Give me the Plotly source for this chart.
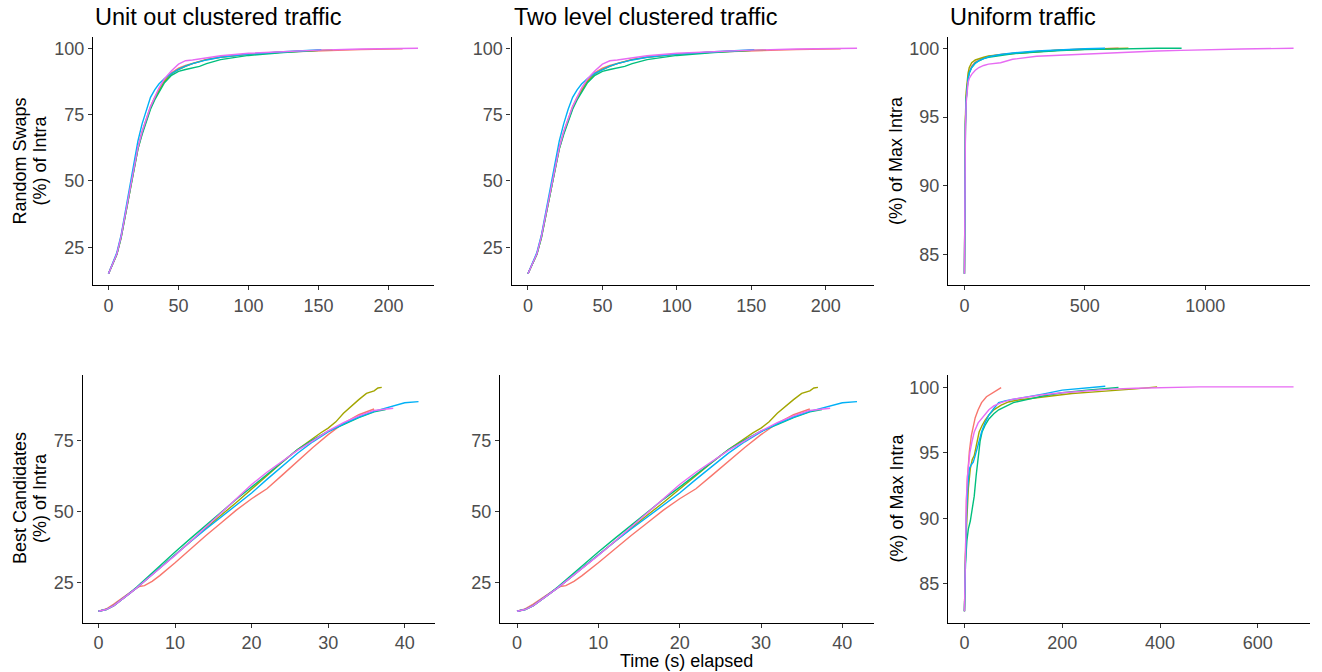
import plotly.graph_objects as go

W, H = 1322, 672

RUNS = ["run 1", "run 2", "run 3", "run 4", "run 5"]
COLORS = ["#F8766D", "#A3A500", "#00BF7D", "#00B0F6", "#E76BF3"]

# ---- Unit out clustered traffic, Random Swaps ----
uo_rs_t1 = [0, 3, 6, 9, 12, 15, 18, 21, 24, 27, 30, 33, 36, 40, 45, 50, 55, 60, 70, 80, 100, 125, 150, 180, 210]
uo_rs_v1 = [15, 18.5, 22.5, 29, 37.5, 46.5, 55, 62.5, 68.5, 73.5, 78, 81.5, 84.5, 88, 90.8, 92.5, 93.5, 94.3, 95.8, 96.7, 97.8, 98.6, 99.1, 99.5, 99.8]
uo_rs_t2 = [0, 3, 6, 9, 12, 15, 18, 21, 24, 27, 30, 33, 36, 40, 45, 50, 55, 60, 70, 80, 100, 125, 150, 160]
uo_rs_v2 = [15, 18.5, 22.3, 28.5, 37, 46, 54.5, 62, 68, 73, 77.5, 81, 84, 87.5, 90.3, 92, 93.2, 94.2, 95.7, 96.6, 97.7, 98.6, 99.2, 99.4]
uo_rs_t3 = [0, 3, 6, 9, 12, 15, 18, 21, 24, 27, 30, 33, 36, 40, 45, 50, 55, 60, 65, 70, 80, 100, 125, 150]
uo_rs_v3 = [15, 18.5, 22.3, 28.5, 37, 46, 54.5, 62, 67.5, 72.5, 77, 80.5, 83.5, 87, 89.8, 91.3, 92, 92.5, 93.2, 94.2, 95.7, 97.3, 98.4, 99.2]
uo_rs_t4 = [0, 3, 6, 9, 12, 15, 18, 21, 24, 27, 30, 33, 36, 40, 45, 50, 55, 60, 70, 80, 100, 125, 152]
uo_rs_v4 = [15, 18.7, 23, 29.5, 38.5, 48, 57, 65, 71.5, 77, 81.5, 84.3, 86.5, 88.6, 90.5, 92, 93.3, 94.2, 95.6, 96.6, 97.8, 98.7, 99.5]
uo_rs_t5 = [0, 3, 6, 9, 12, 15, 18, 21, 24, 27, 30, 33, 36, 40, 45, 50, 55, 60, 70, 80, 100, 125, 150, 180, 221]
uo_rs_v5 = [15, 18.5, 22.5, 29, 37.5, 46.5, 55, 62.5, 68.5, 73.5, 78, 81.5, 85, 88.5, 91.5, 94, 95.3, 95.6, 96.5, 97.2, 98.1, 98.8, 99.3, 99.7, 100]

# ---- Two level clustered traffic, Random Swaps ----
tl_rs_t1 = [0, 3, 6, 9, 12, 15, 18, 21, 24, 27, 30, 33, 36, 40, 45, 50, 55, 60, 70, 80, 100, 125, 150, 180, 210]
tl_rs_v1 = [15, 18.5, 22.5, 29, 37.5, 46.5, 55, 62.5, 68.5, 73.5, 78, 81.5, 84.5, 88, 90.8, 92.5, 93.5, 94.3, 95.8, 96.7, 97.8, 98.6, 99.1, 99.5, 99.8]
tl_rs_t2 = [0, 3, 6, 9, 12, 15, 18, 21, 24, 27, 30, 33, 36, 40, 45, 50, 55, 60, 70, 80, 100, 125, 150, 160]
tl_rs_v2 = [15, 18.5, 22.3, 28.5, 37, 46, 54.5, 62, 68, 73, 77.5, 81, 84, 87.5, 90.3, 92, 93.2, 94.2, 95.7, 96.6, 97.7, 98.6, 99.2, 99.4]
tl_rs_t3 = [0, 3, 6, 9, 12, 15, 18, 21, 24, 27, 30, 33, 36, 40, 45, 50, 55, 60, 65, 70, 80, 100, 125, 150]
tl_rs_v3 = [15, 18.5, 22.3, 28.5, 37, 46, 54.5, 62, 67.5, 72.5, 77, 80.5, 83.5, 87, 89.8, 91.3, 92, 92.5, 93.2, 94.2, 95.7, 97.3, 98.4, 99.2]
tl_rs_t4 = [0, 3, 6, 9, 12, 15, 18, 21, 24, 27, 30, 33, 36, 40, 45, 50, 55, 60, 70, 80, 100, 125, 152]
tl_rs_v4 = [15, 18.7, 23, 29.5, 38.5, 48, 57, 65, 71.5, 77, 81.5, 84.3, 86.5, 88.6, 90.5, 92, 93.3, 94.2, 95.6, 96.6, 97.8, 98.7, 99.5]
tl_rs_t5 = [0, 3, 6, 9, 12, 15, 18, 21, 24, 27, 30, 33, 36, 40, 45, 50, 55, 60, 70, 80, 100, 125, 150, 180, 221]
tl_rs_v5 = [15, 18.5, 22.5, 29, 37.5, 46.5, 55, 62.5, 68.5, 73.5, 78, 81.5, 85, 88.5, 91.5, 94, 95.3, 95.6, 96.5, 97.2, 98.1, 98.8, 99.3, 99.7, 100]

# ---- Uniform traffic, Random Swaps ----
un_rs_t1 = [0, 1, 2, 4, 7, 10, 15, 20, 30, 45, 60, 80, 100, 150, 200, 300, 400, 500, 640]
un_rs_v1 = [83.6, 88, 91.5, 94.5, 96.3, 97.2, 97.9, 98.3, 98.7, 99.0, 99.15, 99.3, 99.4, 99.55, 99.62, 99.75, 99.87, 99.93, 100]
un_rs_t2 = [0, 1, 2, 4, 7, 10, 15, 20, 30, 45, 60, 80, 100, 150, 200, 300, 400, 500, 600, 681]
un_rs_v2 = [83.6, 88.5, 92, 95, 96.8, 97.6, 98.2, 98.6, 98.95, 99.15, 99.25, 99.35, 99.45, 99.55, 99.62, 99.75, 99.87, 99.93, 99.98, 100]
un_rs_t3 = [0, 1, 2, 4, 7, 10, 15, 20, 30, 45, 60, 80, 100, 150, 200, 300, 400, 500, 600, 700, 800, 902]
un_rs_v3 = [83.6, 88, 91.5, 94.5, 96.3, 97.2, 97.8, 98.2, 98.6, 98.95, 99.1, 99.25, 99.35, 99.5, 99.6, 99.72, 99.84, 99.9, 99.95, 99.98, 100, 100]
un_rs_t4 = [0, 1, 2, 4, 7, 10, 15, 20, 30, 45, 60, 80, 100, 150, 200, 300, 400, 500, 584]
un_rs_v4 = [83.6, 87.8, 91.3, 94.3, 96.2, 97.1, 97.8, 98.2, 98.6, 98.9, 99.1, 99.25, 99.38, 99.55, 99.66, 99.8, 99.9, 99.96, 100]
un_rs_t5 = [0, 1, 2, 4, 7, 10, 15, 20, 30, 45, 60, 80, 100, 150, 200, 300, 400, 500, 600, 700, 800, 900, 1000, 1150, 1367]
un_rs_v5 = [83.6, 87.5, 91, 94, 96, 96.9, 97.5, 97.8, 98.1, 98.4, 98.6, 98.75, 98.85, 98.95, 99.2, 99.42, 99.5, 99.58, 99.68, 99.74, 99.8, 99.85, 99.9, 99.95, 100]

# ---- Unit out clustered traffic, Best Candidates ----
uo_bc_t1 = [0, 1, 2, 3, 4, 5, 5.5, 6, 7, 8, 10, 12, 14, 16, 18, 20, 22, 24, 26, 28, 30, 32, 34, 36]
uo_bc_v1 = [15, 15.8, 17.5, 19.5, 21.5, 23.3, 23.8, 24, 25.5, 27.5, 32, 36.8, 41.5, 46, 50.5, 54.5, 58, 62.8, 67.8, 72.5, 77, 81, 84, 86]
uo_bc_t2 = [0, 1, 2, 3, 4, 5, 6, 8, 10, 12, 14, 16, 18, 20, 22, 24, 26, 28, 29, 30, 31, 32, 33, 34, 35, 36, 36.5, 37]
uo_bc_v2 = [15, 15.6, 17, 19, 21, 23.2, 25.5, 30.2, 34.8, 39.5, 44.2, 48.7, 53.2, 58, 62.8, 67.3, 71.8, 75.8, 77.6, 79.3, 81.5, 84.5, 87, 89.3, 91.5, 92.4, 93.4, 93.6]
uo_bc_t3 = [0, 1, 2, 3, 4, 5, 6, 8, 10, 12, 14, 16, 18, 20, 22, 24, 26, 28, 30, 32, 34, 36, 37.5]
uo_bc_v3 = [15, 15.6, 17, 19, 21.2, 23.5, 26, 31, 35.8, 40.5, 45.2, 49.8, 54.3, 58.6, 63, 67.5, 71.8, 75.2, 78.2, 80.5, 83, 85, 85.8]
uo_bc_t4 = [0, 1, 2, 3, 4, 5, 6, 8, 10, 12, 14, 16, 18, 20, 22, 24, 26, 28, 30, 32, 34, 36, 38, 40, 41.8]
uo_bc_v4 = [15, 15.6, 17, 19, 21, 23.2, 25.5, 30.2, 34.8, 39.4, 43.8, 48, 52.2, 56.5, 61.3, 66, 70.5, 74.5, 78, 80.8, 83.2, 85.2, 86.8, 88.2, 88.6]
uo_bc_t5 = [0, 1, 2, 3, 4, 5, 6, 8, 10, 12, 14, 16, 18, 20, 22, 24, 26, 28, 30, 32, 34, 36, 38.5]
uo_bc_v5 = [15, 15.6, 17, 19, 21, 23.2, 25.5, 30, 34.6, 39.5, 44.5, 49.5, 54.5, 59.5, 63.8, 67.8, 71.5, 74.8, 78.3, 81.2, 83.6, 85.5, 86.3]

# ---- Two level clustered traffic, Best Candidates ----
tl_bc_t1 = [0, 1, 2, 3, 4, 5, 5.5, 6, 7, 8, 10, 12, 14, 16, 18, 20, 22, 24, 26, 28, 30, 32, 34, 36]
tl_bc_v1 = [15, 15.8, 17.5, 19.5, 21.5, 23.3, 23.8, 24, 25.5, 27.5, 32, 36.8, 41.5, 46, 50.5, 54.5, 58, 62.8, 67.8, 72.5, 77, 81, 84, 86]
tl_bc_t2 = [0, 1, 2, 3, 4, 5, 6, 8, 10, 12, 14, 16, 18, 20, 22, 24, 26, 28, 29, 30, 31, 32, 33, 34, 35, 36, 36.5, 37]
tl_bc_v2 = [15, 15.6, 17, 19, 21, 23.2, 25.5, 30.2, 34.8, 39.5, 44.2, 48.7, 53.2, 58, 62.8, 67.3, 71.8, 75.8, 77.6, 79.3, 81.5, 84.5, 87, 89.3, 91.5, 92.4, 93.4, 93.6]
tl_bc_t3 = [0, 1, 2, 3, 4, 5, 6, 8, 10, 12, 14, 16, 18, 20, 22, 24, 26, 28, 30, 32, 34, 36, 37.5]
tl_bc_v3 = [15, 15.6, 17, 19, 21.2, 23.5, 26, 31, 35.8, 40.5, 45.2, 49.8, 54.3, 58.6, 63, 67.5, 71.8, 75.2, 78.2, 80.5, 83, 85, 85.8]
tl_bc_t4 = [0, 1, 2, 3, 4, 5, 6, 8, 10, 12, 14, 16, 18, 20, 22, 24, 26, 28, 30, 32, 34, 36, 38, 40, 41.8]
tl_bc_v4 = [15, 15.6, 17, 19, 21, 23.2, 25.5, 30.2, 34.8, 39.4, 43.8, 48, 52.2, 56.5, 61.3, 66, 70.5, 74.5, 78, 80.8, 83.2, 85.2, 86.8, 88.2, 88.6]
tl_bc_t5 = [0, 1, 2, 3, 4, 5, 6, 8, 10, 12, 14, 16, 18, 20, 22, 24, 26, 28, 30, 32, 34, 36, 38.5]
tl_bc_v5 = [15, 15.6, 17, 19, 21, 23.2, 25.5, 30, 34.6, 39.5, 44.5, 49.5, 54.5, 59.5, 63.8, 67.8, 71.5, 74.8, 78.3, 81.2, 83.6, 85.5, 86.3]

# ---- Uniform traffic, Best Candidates ----
un_bc_t1 = [0, 1, 2, 4, 6, 8, 10, 14, 18, 22, 28, 35, 45, 55, 65, 75]
un_bc_v1 = [82.9, 86, 88.5, 91.3, 93, 94.2, 95.1, 96.3, 97.1, 97.7, 98.3, 98.85, 99.3, 99.55, 99.8, 100]
un_bc_t2 = [0, 2, 5, 8, 12, 16, 20, 25, 30, 36, 42, 50, 60, 75, 90, 110, 140, 180, 220, 260, 300, 350, 394]
un_bc_v2 = [82.9, 87, 90, 92.3, 93.8, 94.5, 94.8, 95.8, 96.6, 97.1, 97.5, 97.9, 98.3, 98.65, 98.9, 99.05, 99.2, 99.4, 99.55, 99.65, 99.75, 99.9, 100.05]
un_bc_t3 = [0, 2, 5, 8, 12, 16, 20, 24, 28, 32, 36, 42, 50, 60, 70, 85, 100, 130, 160, 200, 250, 315]
un_bc_v3 = [82.9, 86.5, 88.3, 89.2, 89.8, 90.8, 91.7, 93.3, 94.8, 95.9, 96.6, 97.1, 97.6, 98.0, 98.3, 98.6, 98.85, 99.1, 99.35, 99.6, 99.8, 100]
un_bc_t4 = [0, 2, 4, 6, 8, 10, 14, 18, 22, 28, 35, 42, 50, 60, 70, 85, 100, 130, 160, 200, 240, 288]
un_bc_v4 = [82.9, 87, 90, 92, 93.2, 93.8, 94.1, 94.3, 94.8, 95.6, 96.6, 97.3, 97.9, 98.4, 98.85, 99.0, 99.1, 99.25, 99.5, 99.8, 99.95, 100.1]
un_bc_t5 = [0, 1, 2, 4, 6, 8, 11, 15, 20, 28, 35, 42, 50, 60, 75, 97, 130, 160, 200, 250, 300, 350, 400, 480, 560, 673]
un_bc_v5 = [82.9, 86, 88.5, 91.5, 93.2, 94.2, 95, 95.8, 96.6, 97.3, 97.6, 97.9, 98.3, 98.6, 98.85, 99.1, 99.3, 99.45, 99.6, 99.75, 99.88, 99.95, 100, 100.05, 100.05, 100.05]

# Axis ticks
TICKS_X_RS = [0, 50, 100, 150, 200]
TICKS_X_UN_RS = [0, 500, 1000]
TICKS_X_BC = [0, 10, 20, 30, 40]
TICKS_X_UN_BC = [0, 200, 400, 600]
TICKS_Y_RS = [25, 50, 75, 100]
TICKS_Y_BC = [25, 50, 75]
TICKS_Y_UN = [85, 90, 95, 100]

PANEL_TITLES = ["Unit out clustered traffic", "Two level clustered traffic", "Uniform traffic"]

panels = [
    dict(series=[(uo_rs_t1, uo_rs_v1), (uo_rs_t2, uo_rs_v2), (uo_rs_t3, uo_rs_v3), (uo_rs_t4, uo_rs_v4), (uo_rs_t5, uo_rs_v5)],
         px=(93, 433.5), py=(37, 285), xr=[-11.05, 232.05], yr=[10.75, 104.25], xt=TICKS_X_RS, yt=TICKS_Y_RS),
    dict(series=[(tl_rs_t1, tl_rs_v1), (tl_rs_t2, tl_rs_v2), (tl_rs_t3, tl_rs_v3), (tl_rs_t4, tl_rs_v4), (tl_rs_t5, tl_rs_v5)],
         px=(511.5, 873.5), py=(37, 285), xr=[-11.05, 232.05], yr=[10.75, 104.25], xt=TICKS_X_RS, yt=TICKS_Y_RS),
    dict(series=[(un_rs_t1, un_rs_v1), (un_rs_t2, un_rs_v2), (un_rs_t3, un_rs_v3), (un_rs_t4, un_rs_v4), (un_rs_t5, un_rs_v5)],
         px=(948, 1310), py=(37, 285), xr=[-68.35, 1435.35], yr=[82.78, 100.82], xt=TICKS_X_UN_RS, yt=TICKS_Y_UN),
    dict(series=[(uo_bc_t1, uo_bc_v1), (uo_bc_t2, uo_bc_v2), (uo_bc_t3, uo_bc_v3), (uo_bc_t4, uo_bc_v4), (uo_bc_t5, uo_bc_v5)],
         px=(82.5, 434.5), py=(375, 622.5), xr=[-2.09, 43.89], yr=[11.05, 97.95], xt=TICKS_X_BC, yt=TICKS_Y_BC),
    dict(series=[(tl_bc_t1, tl_bc_v1), (tl_bc_t2, tl_bc_v2), (tl_bc_t3, tl_bc_v3), (tl_bc_t4, tl_bc_v4), (tl_bc_t5, tl_bc_v5)],
         px=(500, 874), py=(375, 622.5), xr=[-2.09, 43.89], yr=[11.05, 97.95], xt=TICKS_X_BC, yt=TICKS_Y_BC),
    dict(series=[(un_bc_t1, un_bc_v1), (un_bc_t2, un_bc_v2), (un_bc_t3, un_bc_v3), (un_bc_t4, un_bc_v4), (un_bc_t5, un_bc_v5)],
         px=(948, 1310), py=(375, 622.5), xr=[-33.65, 706.65], yr=[82.04, 100.96], xt=TICKS_X_UN_BC, yt=TICKS_Y_UN),
]

FONT = "Liberation Sans, Arial, Helvetica, sans-serif"
TICK_FONT = dict(family=FONT, size=18, color="#4D4D4D")

fig = go.Figure()
layout = dict(
    width=W, height=H,
    margin=dict(l=0, r=0, t=0, b=0),
    paper_bgcolor="white", plot_bgcolor="white",
    showlegend=False,
    font=dict(family=FONT, color="black"),
)

for i, p in enumerate(panels):
    k = "" if i == 0 else str(i + 1)
    for j, (t, v) in enumerate(p["series"]):
        fig.add_trace(go.Scatter(
            x=t, y=v, mode="lines", name=RUNS[j],
            line=dict(color=COLORS[j], width=1.4),
            xaxis="x" + k, yaxis="y" + k,
        ))
    axis_common = dict(
        showline=True, linecolor="black", linewidth=1.1,
        ticks="outside", ticklen=4, tickwidth=1, tickcolor="#333333",
        tickfont=TICK_FONT, showgrid=False, zeroline=False,
    )
    layout["xaxis" + k] = dict(
        axis_common, domain=[p["px"][0] / W, p["px"][1] / W],
        range=p["xr"], tickvals=p["xt"], anchor="y" + k,
    )
    layout["yaxis" + k] = dict(
        axis_common, domain=[1 - p["py"][1] / H, 1 - p["py"][0] / H],
        range=p["yr"], tickvals=p["yt"], anchor="x" + k,
    )

annotations = []
for col, title in enumerate(PANEL_TITLES):
    annotations.append(dict(
        text=title, x=panels[col]["px"][0] / W, y=1 - 17 / H,
        xref="paper", yref="paper", xanchor="left", yanchor="middle",
        showarrow=False, font=dict(family=FONT, size=23.5, color="black"),
    ))

ytitle_font = dict(family=FONT, size=18, color="black")
row_mid = [1 - 161 / H, 1 - 498.5 / H]
left_titles = [("Random Swaps", "(%) of Intra"), ("Best Candidates", "(%) of Intra")]
for r, (l1, l2) in enumerate(left_titles):
    for xc, txt in ((19.5, l1), (39.5, l2)):
        annotations.append(dict(
            text=txt, x=xc / W, y=row_mid[r], xref="paper", yref="paper",
            xanchor="center", yanchor="middle", textangle=-90,
            showarrow=False, font=ytitle_font,
        ))
    annotations.append(dict(
        text="(%) of Max Intra", x=896 / W, y=row_mid[r], xref="paper", yref="paper",
        xanchor="center", yanchor="middle", textangle=-90,
        showarrow=False, font=ytitle_font,
    ))

annotations.append(dict(
    text="Time (s) elapsed", x=686.5 / W, y=1 - 661 / H, xref="paper", yref="paper",
    xanchor="center", yanchor="middle", showarrow=False, font=ytitle_font,
))

layout["annotations"] = annotations
fig.update_layout(**layout)
fig.write_html("out.html")
